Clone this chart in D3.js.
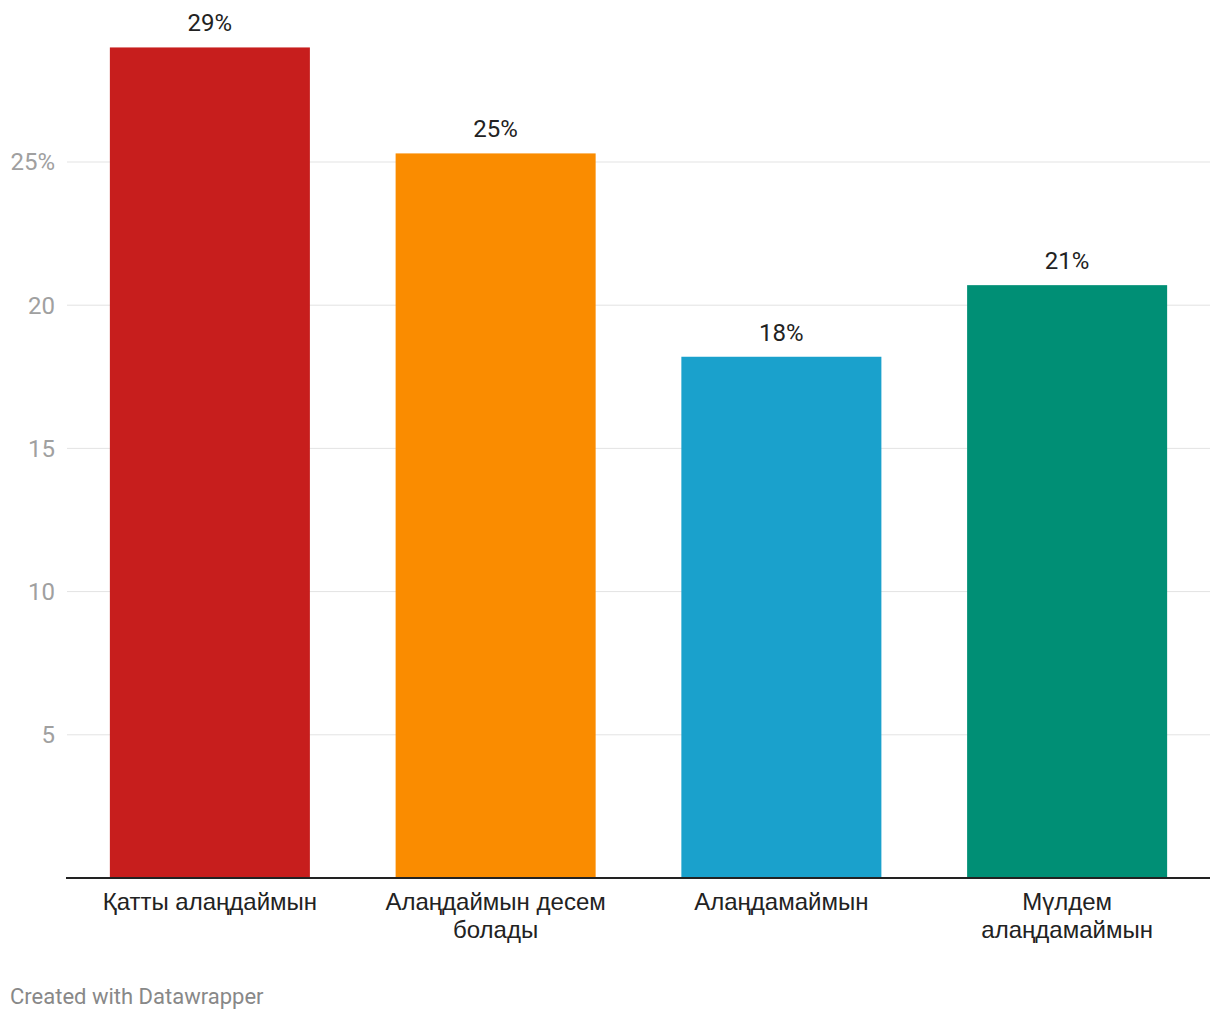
<!DOCTYPE html>
<html><head><meta charset="utf-8">
<script src="https://cdn.jsdelivr.net/npm/d3@7"></script>
<style>body{margin:0;background:#fff;font-family:Roboto,sans-serif;}</style>
</head><body><svg id="c" width="1220" height="1020"></svg>
<script>
const categories = ["Қатты алаңдаймын", "Алаңдаймын десем болады", "Алаңдамаймын", "Мүлдем алаңдамаймын"];
const values = [29.0, 25.3, 18.2, 20.7];
const valueLabels = ["29%", "25%", "18%", "21%"];
const colors = ["#c71e1d", "#fa8c00", "#1aa1cc", "#008f75"];
const ticks = [5, 10, 15, 20, 25];
const tickLabels = ["5", "10", "15", "20", "25%"];
const categoryLines = [["Қатты алаңдаймын"], ["Алаңдаймын десем", "болады"], ["Алаңдамаймын"], ["Мүлдем", "алаңдамаймын"]];

const svg = d3.select("#c");
const left = 67, right = 1210, top0 = 162, bottom = 878;
const y = d3.scaleLinear().domain([0, 25]).range([bottom, top0]);
const x = d3.scaleBand().domain(categories).range([67, 1210]).paddingInner(0.3).paddingOuter(0.15);

// gridlines
svg.append("g").selectAll("line").data(ticks).join("line")
  .attr("x1", left).attr("x2", right)
  .attr("y1", d => y(d)).attr("y2", d => y(d))
  .attr("stroke", "#e3e3e3").attr("stroke-width", 1);
svg.append("g").selectAll("text").data(ticks).join("text")
  .attr("x", 55).attr("y", d => y(d)).attr("dy", "0.35em")
  .attr("text-anchor", "end").attr("fill", "#a0a0a0")
  .attr("font-size", 24).text((d, i) => tickLabels[i]);

// bars
svg.append("g").selectAll("rect").data(values).join("rect")
  .attr("x", (d, i) => x(categories[i])).attr("width", x.bandwidth())
  .attr("y", d => y(d)).attr("height", d => bottom - y(d))
  .attr("fill", (d, i) => colors[i]);

// value labels
svg.append("g").selectAll("text").data(values).join("text")
  .attr("x", (d, i) => x(categories[i]) + x.bandwidth() / 2)
  .attr("y", d => y(d) - 16)
  .attr("text-anchor", "middle").attr("fill", "#222").attr("font-size", 24)
  .text((d, i) => valueLabels[i]);

// axis line
svg.append("line").attr("x1", 66).attr("x2", right).attr("y1", bottom).attr("y2", bottom)
  .attr("stroke", "#222").attr("stroke-width", 2);

// category labels
const cl = svg.append("g").selectAll("text").data(categories).join("text")
  .attr("text-anchor", "middle").attr("fill", "#222").attr("font-size", 24)
  .style("font-family", "'Liberation Sans', Arial, sans-serif")
  .attr("x", d => x(d) + x.bandwidth() / 2).attr("y", 910);
cl.each(function(d, i) {
  const t = d3.select(this);
  categoryLines[i].forEach((ln, j) => {
    t.append("tspan").attr("x", x(d) + x.bandwidth() / 2).attr("dy", j === 0 ? 0 : 28).text(ln);
  });
});

svg.append("text").attr("x", 10).attr("y", 1004).attr("fill", "#888").attr("font-size", 22)
  .text("Created with Datawrapper");
</script></body></html>
